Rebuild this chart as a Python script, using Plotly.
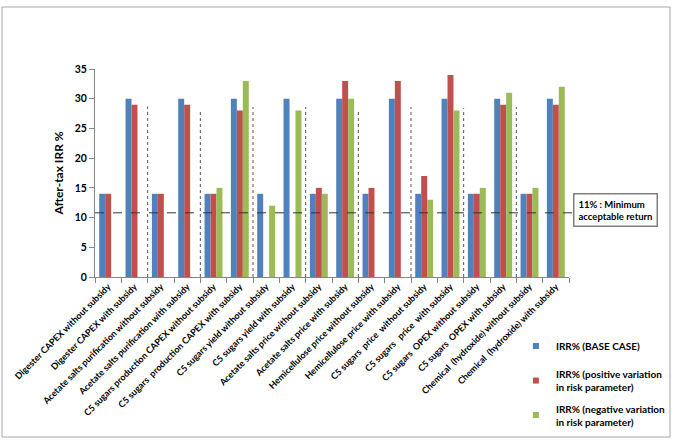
import plotly.graph_objects as go

categories = [
    "Digester CAPEX without subsidy",
    "Digester CAPEX with subsidy",
    "Acetate salts purification without subsidy",
    "Acetate salts purification with subsidy",
    "C5 sugars production CAPEX without subsidy",
    "C5 sugars  production CAPEX with subsidy",
    "C5 sugars yield without subsidy",
    "C5 sugars yield with subsidy",
    "Acetate salts price without subsidy",
    "Acetate salts price with subsidy",
    "Hemicellulose price without subsidy",
    "Hemicellulose price with subsidy",
    "C5 sugars  price  without subsidy",
    "C5 sugars   price  with subsidy",
    "C5 sugars  OPEX without subsidy",
    "C5 sugars  OPEX with subsidy",
    "Chemical  (hydroxide) without subsidy",
    "Chemical  (hydroxide) with subsidy",
]
base_case = [14, 30, 14, 30, 14, 30, 14, 30, 14, 30, 14, 30, 14, 30, 14, 30, 14, 30]
positive_var = [14, 29, 14, 29, 14, 28, None, None, 15, 33, 15, 33, 17, 34, 14, 29, 14, 29]
negative_var = [None, None, None, None, 15, 33, 12, 28, 14, 30, None, None, 13, 28, 15, 31, 15, 32]
series_names = [
    "IRR% (BASE CASE)",
    "IRR% (positive variation<br>in risk parameter)",
    "IRR% (negative variation<br>in risk parameter)",
]
colors = ["#4F81BD", "#C0504D", "#9BBB59"]
min_return = 10.8
divider_positions = [1.5, 3.5, 5.5, 7.5, 9.5, 11.5, 13.5, 15.5]
divider_tops = [28.7, 28.2, 28.6, 28.6, 28.2, 28.6, 28.4, 28.6]

FONT = "Lato"
legend_ids = ["legend", "legend2", "legend3"]
legend_y = [-0.332, -0.498, -0.664]

fig = go.Figure()
for name, vals, col in zip(series_names, [base_case, positive_var, negative_var], colors):
    fig.add_trace(go.Bar(x=categories, y=vals, name=name, marker=dict(color=col, line=dict(width=0)),
                         showlegend=False))
# legend entries with small square swatches, one legend box per entry
for name, col, lid in zip(series_names, colors, legend_ids):
    fig.add_trace(go.Scatter(x=[None], y=[None], mode="markers", name=name, legend=lid,
                             marker=dict(symbol="square", size=6, color=col)))

shapes = []
for xp, top in zip(divider_positions, divider_tops):
    shapes.append(dict(type="line", xref="x", yref="y", x0=xp, x1=xp, y0=0, y1=top,
                       line=dict(color="#555555", width=1, dash="dot")))
shapes.append(dict(type="line", xref="paper", yref="y", x0=0, x1=1.008, y0=min_return, y1=min_return,
                   line=dict(color="#333333", width=1, dash="dash")))
# outer chart border
shapes.append(dict(type="rect", xref="paper", yref="paper",
                   x0=(2 - 95) / 474, x1=(670 - 95) / 474, y0=(277 - 437) / 208, y1=(277 - 7) / 208,
                   line=dict(color="#A6A6A6", width=1), fillcolor="rgba(0,0,0,0)", layer="below"))

legend_common = dict(x=0.888, xanchor="left", yanchor="middle",
                     font=dict(family=FONT, size=10, color="#000000", weight="bold"),
                     itemwidth=30, bgcolor="rgba(0,0,0,0)")

fig.update_layout(
    width=675, height=440,
    margin=dict(l=95, r=106, t=69, b=163, autoexpand=False),
    plot_bgcolor="white", paper_bgcolor="white",
    barmode="group", bargap=0.32, bargroupgap=0,
    font=dict(family=FONT, color="#000000"),
    shapes=shapes,
    showlegend=True,
    legend=dict(y=legend_y[0], **legend_common),
    legend2=dict(y=legend_y[1], **legend_common),
    legend3=dict(y=legend_y[2], **legend_common),
    annotations=[dict(xref="paper", yref="y", x=1.008, y=11.3, xanchor="left", yanchor="middle",
                      text="<b>11% : Minimum<br>acceptable return</b>", showarrow=False, align="left",
                      font=dict(family=FONT, size=9.5, color="#000000"),
                      bordercolor="#7F7F7F", borderwidth=1.5, borderpad=4, bgcolor="white")],
)
fig.update_xaxes(
    type="category", tickangle=-45, tickson="boundaries", ticks="outside", ticklen=5,
    tickcolor="#868686", showline=True, linecolor="#868686", linewidth=1,
    tickfont=dict(family=FONT, size=9, color="#000000", weight="bold"),
    showgrid=False, range=[-0.5, 17.5], automargin=False,
)
fig.update_yaxes(
    range=[0, 35], dtick=5, ticks="outside", ticklen=5, tickcolor="#868686",
    showline=True, linecolor="#868686", linewidth=1, showgrid=False, zeroline=False, automargin=False,
    tickfont=dict(family=FONT, size=10.5, color="#000000", weight="bold"),
    title=dict(text="<b>After-tax IRR %</b>", font=dict(family=FONT, size=12, color="#000000"), standoff=8),
)

fig.write_html("out.html")
